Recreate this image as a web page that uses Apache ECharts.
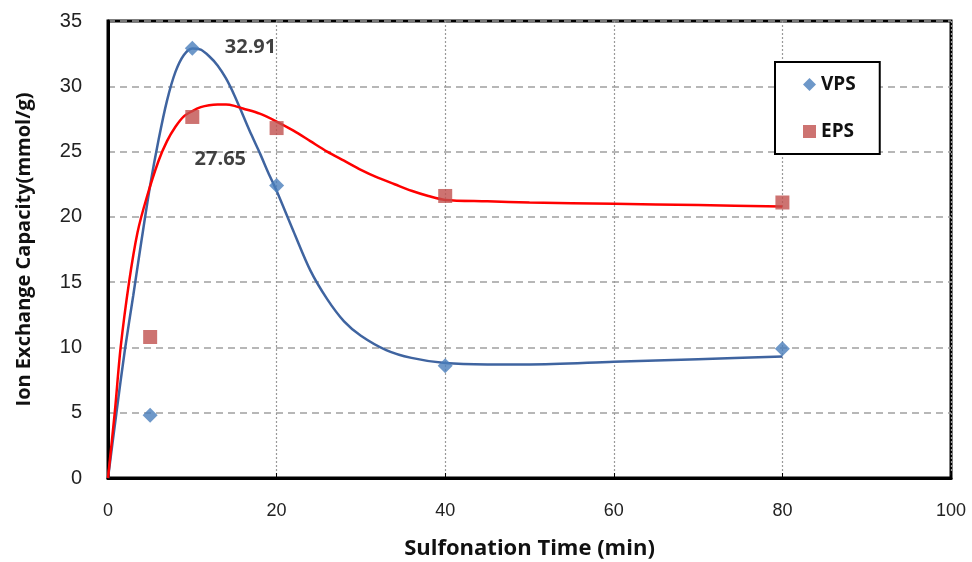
<!DOCTYPE html>
<html><head><meta charset="utf-8">
<script src="https://cdn.jsdelivr.net/npm/echarts@6/dist/echarts.min.js"></script>
<style>html,body{margin:0;padding:0;background:#fff}#c{width:972px;height:562px}</style>
</head><body><div id="c"></div>
<script>
// Measured points
const vpsX = [5, 10, 20, 40, 80];
const vpsY = [4.8, 32.91, 22.4, 8.6, 9.9];
const epsX = [5, 10, 20, 40, 80];
const epsY = [10.8, 27.65, 26.8, 21.6, 21.1];
// Trend curves
const vpsCurveX = [0, 1, 2, 3, 4, 5, 6, 7, 8, 9, 10, 11, 12, 13, 14, 15, 16, 17, 18, 19, 20, 22, 24, 26, 28, 30, 33, 36, 40, 45, 50, 60, 70, 80];
const vpsCurveY = [0, 5, 9.8, 14, 18.3, 22.4, 25.9, 28.9, 31.1, 32.4, 32.9, 32.8, 32.3, 31.6, 30.6, 29.3, 27.8, 26.3, 24.9, 23.4, 22.0, 18.9, 15.9, 13.7, 12.0, 10.9, 9.8, 9.2, 8.8, 8.7, 8.7, 8.9, 9.1, 9.3];
const epsCurveX = [0, 0.8, 1.5, 2.5, 3.5, 4.6, 6, 7, 8, 9, 10, 11, 12, 13, 14, 15, 16, 18, 20, 22, 24, 26, 28, 30, 32, 34, 36, 38, 40, 45, 50, 60, 70, 80];
const epsCurveY = [0, 5, 10, 15, 18.8, 21.5, 24.3, 25.8, 26.9, 27.7, 28.1, 28.4, 28.55, 28.6, 28.6, 28.5, 28.3, 27.9, 27.3, 26.6, 25.8, 25.0, 24.3, 23.6, 23.0, 22.5, 22.0, 21.6, 21.3, 21.2, 21.1, 21.0, 20.9, 20.8];
const xTicks = [0, 20, 40, 60, 80, 100];
const yTicks = [0, 5, 10, 15, 20, 25, 30, 35];

const zip = (a, b) => a.map((v, i) => [v, b[i]]);
const vpsPts = zip(vpsX, vpsY);
const epsPts = zip(epsX, epsY);
const bold = 'Open Sans, DejaVu Sans, sans-serif';

const chart = echarts.init(document.getElementById('c'), null, {renderer: 'canvas'});
chart.setOption({
  animation: false,
  backgroundColor: '#fff',
  grid: {left: 108, right: 21, top: 21, bottom: 84, containLabel: false, outerBoundsMode: 'none',
    show: true, borderColor: '#000', borderWidth: 3, backgroundColor: 'transparent'},
  legend: {
    data: [{name: 'VPS', icon: 'diamond'}, {name: 'EPS', icon: 'rect'}],
    orient: 'vertical', left: 775, top: 62,
    padding: [13, 24, 13, 28],
    itemGap: 28, itemWidth: 13, itemHeight: 13,
    borderColor: '#000', borderWidth: 2,
    backgroundColor: '#fff',
    textStyle: {fontFamily: bold, fontWeight: 'bold', fontSize: 19, color: '#111'}
  },
  xAxis: {
    type: 'value', min: 0, max: 100, interval: 20,
    axisLine: {show: true, lineStyle: {color: '#000', width: 3}},
    axisTick: {show: true, inside: true, length: 5, lineStyle: {color: '#000', width: 1}},
    axisLabel: {margin: 24, fontFamily: 'Liberation Sans, Arial, sans-serif', fontSize: 18, color: '#222',
      formatter: v => xTicks.includes(v) ? String(v) : ''},
    splitLine: {show: true, lineStyle: {color: '#999', width: 1.2, type: [2, 2]}},
    name: 'Sulfonation Time (min)', nameLocation: 'middle', nameGap: 60,
    nameTextStyle: {fontFamily: bold, fontWeight: 'bold', fontSize: 22, color: '#111'}
  },
  yAxis: {
    type: 'value', min: 0, max: 35, interval: 5,
    axisLine: {show: true, lineStyle: {color: '#000', width: 3}},
    axisTick: {show: false},
    axisLabel: {margin: 26, fontFamily: 'Liberation Sans, Arial, sans-serif', fontSize: 20, color: '#222',
      formatter: v => yTicks.includes(v) ? String(v) : ''},
    splitLine: {show: true, lineStyle: {color: '#a0a0a0', width: 1.5, type: [7, 5]}},
    name: 'Ion Exchange Capacity(mmol/g)', nameLocation: 'middle', nameGap: 74, nameRotate: 90,
    nameTextStyle: {fontFamily: bold, fontWeight: 'bold', fontSize: 20, color: '#111'}
  },
  series: [
    {name: 'VPS fit', type: 'line', data: zip(vpsCurveX, vpsCurveY), smooth: 0.3, showSymbol: false, symbol: 'none',
      lineStyle: {color: '#3f64a0', width: 2.5}, z: 2, silent: true},
    {name: 'EPS fit', type: 'line', data: zip(epsCurveX, epsCurveY), smooth: 0.3, showSymbol: false, symbol: 'none',
      lineStyle: {color: '#ff0000', width: 2.5}, z: 2, silent: true},
    {name: 'VPS', type: 'scatter', symbol: 'diamond', symbolSize: 15, itemStyle: {color: '#4a7ebb'}, z: 3,
      data: vpsPts.map((p, i) => i === 1 ? {value: p, label: {show: true, position: 'right', offset: [20, -1],
        formatter: String(vpsY[1]), fontFamily: bold, fontWeight: 'bold', fontSize: 20, color: '#111'}} : p)},
    {name: 'EPS', type: 'scatter', symbol: 'rect', symbolSize: 14, itemStyle: {color: '#c0504d'}, z: 3,
      data: epsPts.map((p, i) => i === 1 ? {value: p, label: {show: true, position: 'bottom', offset: [28, 20],
        formatter: String(epsY[1]), fontFamily: bold, fontWeight: 'bold', fontSize: 20, color: '#111'}} : p)}
  ]
});
</script></body></html>
